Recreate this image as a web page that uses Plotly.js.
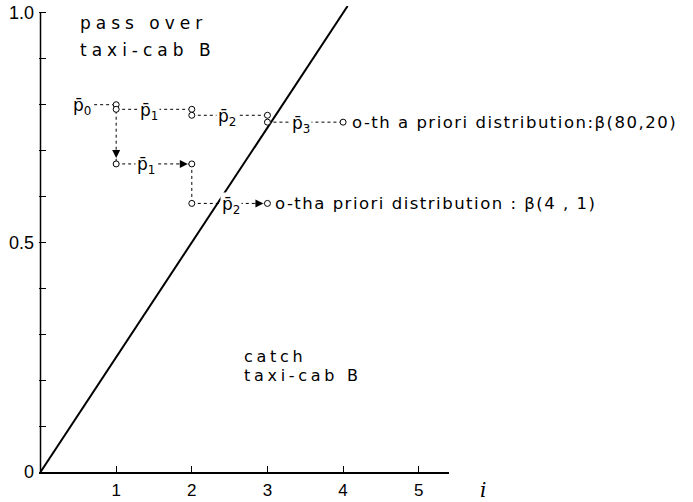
<!DOCTYPE html>
<html>
<head>
<meta charset="utf-8">
<script src="https://cdn.plot.ly/plotly-3.0.1.min.js"></script>
<style>
  html, body { margin: 0; padding: 0; background: #fff; }
  #chart { width: 693px; height: 502px; }
  /* plotter-style wide lettering for the region names and captions */
  .annotation[data-index="0"] .annotation-text,
  .annotation[data-index="1"] .annotation-text { letter-spacing: 5px; }
  .annotation[data-index="2"] .annotation-text,
  .annotation[data-index="3"] .annotation-text { letter-spacing: 3.7px; }
  .annotation[data-index="4"] .annotation-text,
  .annotation[data-index="5"] .annotation-text { letter-spacing: 1.5px; }
</style>
</head>
<body>
<div id="chart"></div>
<script>
// Axis ticks
const iTicks = [1, 2, 3, 4, 5];
const pTicks = [0, 0.1, 0.2, 0.3, 0.4, 0.5, 0.6, 0.7, 0.8, 0.9, 1.0];
const pTickText = ['0', '', '', '', '', '0.5', '', '', '', '', '1.0'];

// Boundary between "pass over" and "catch": p = i/4
const boundaryI = [0, 4.06];
const boundaryP = [0, 1.015];

// Mean estimates p̄_k under the β(80,20) prior
const meansA = [0.800, 0.790, 0.777, 0.762];
const labelIA = [0.55, 1.43, 2.47, 3.45];

// Mean estimates p̄_k under the β(4,1) prior (p̄_0 shared with the above)
const meansB = [0.800, 0.671, 0.585];
const labelIB = [null, 1.40, 2.52];

// Region names and prior captions
const regionText = ['pass over', 'taxi-cab B', 'catch', 'taxi-cab B'];
const regionI = [0.50, 0.50, 2.67, 2.67];
const regionP = [0.978, 0.919, 0.252, 0.210];
const priorText = ['o-th a priori distribution:β(80,20)', 'o-tha priori distribution : β(4 , 1)'];

const FONT = 'DejaVu Sans, sans-serif';

// ---- path of the β(80,20) estimates ----
const hxA = [], hyA = [];
meansA.forEach((m, k) => {
  hxA.push(k === 0 ? labelIA[0] : k, k + 1, null);
  hyA.push(m, m, null);
});
const mxA = [], myA = [];
for (let k = 1; k < meansA.length; k++) {
  mxA.push(k, k); myA.push(meansA[k - 1], meansA[k]);
}
mxA.push(meansA.length); myA.push(meansA[meansA.length - 1]);

// ---- path of the β(4,1) estimates ----
const hxB = [], hyB = [], vxB = [], vyB = [], mxB = [], myB = [];
for (let k = 1; k < meansB.length; k++) {
  hxB.push(k, k + 1, null); hyB.push(meansB[k], meansB[k], null);
  vxB.push(k, k, null); vyB.push(meansB[k - 1], meansB[k], null);
  mxB.push(k, k + 1); myB.push(meansB[k], meansB[k]);
}

const dotted = { color: '#000', width: 1, dash: 'dot' };
const dashed = { color: '#000', width: 1, dash: '3px,3px' };
const openCircle = { symbol: 'circle', size: 6, color: '#fff', line: { color: '#000', width: 1 } };

const traces = [
  { x: boundaryI, y: boundaryP, mode: 'lines', line: { color: '#000', width: 2 } },
  { x: hxA, y: hyA, mode: 'lines', line: dotted },
  { x: hxB, y: hyB, mode: 'lines', line: dotted },
  { x: vxB, y: vyB, mode: 'lines', line: dashed },
  { x: mxA.concat(mxB), y: myA.concat(myB), mode: 'markers', marker: openCircle, cliponaxis: false }
];

const annotations = [];
regionText.forEach((t, n) => annotations.push({
  x: regionI[n], y: regionP[n], xref: 'x', yref: 'y', text: t, showarrow: false,
  xanchor: 'left', yanchor: 'middle', align: 'left',
  font: { family: FONT, size: n < 2 ? 17 : 16, color: '#000' }
}));
// captions start just right of the last circle of each path
annotations.push({
  x: meansA.length, y: meansA[meansA.length - 1], xref: 'x', yref: 'y', text: priorText[0],
  showarrow: false, xanchor: 'left', yanchor: 'middle', align: 'left', xshift: 7,
  font: { family: FONT, size: 16.5, color: '#000' }
});
annotations.push({
  x: meansB.length, y: meansB[meansB.length - 1], xref: 'x', yref: 'y', text: priorText[1],
  showarrow: false, xanchor: 'left', yanchor: 'middle', align: 'left', xshift: 6,
  font: { family: FONT, size: 16.5, color: '#000' }
});
// p̄ labels sitting on the dotted paths
const barLabel = (x, y, k) => ({
  x: x, y: y, xref: 'x', yref: 'y', text: 'p\u0304<sub>' + k + '</sub>', showarrow: false,
  xanchor: 'center', yanchor: 'middle', yshift: -2, bgcolor: '#fff', borderpad: 1,
  font: { family: FONT, size: 17, color: '#000' }
});
meansA.forEach((m, k) => annotations.push(barLabel(labelIA[k], m, k)));
for (let k = 1; k < meansB.length; k++) annotations.push(barLabel(labelIB[k], meansB[k], k));
// arrow heads along the β(4,1) path
const head = (x, y, ax, ay, standoff) => ({
  x: x, y: y, ax: ax, ay: ay, xref: 'x', yref: 'y', axref: 'x', ayref: 'y', text: '',
  showarrow: true, arrowhead: 2, arrowsize: 1.6, arrowwidth: 1, arrowcolor: '#000', standoff: standoff
});
annotations.push(head(1, meansB[1], 1, meansB[1] + 0.03, 6));
annotations.push(head(2, meansB[1], 1.82, meansB[1], 4));
annotations.push(head(3, meansB[2], 2.82, meansB[2], 4));
// axis name for the stage index (placed in paper units, right of the axis end)
annotations.push({
  x: 1.083, y: -0.039, xref: 'paper', yref: 'paper', text: '<i>i</i>', showarrow: false,
  xanchor: 'center', yanchor: 'middle', font: { family: 'DejaVu Serif, serif', size: 20, color: '#000' }
});

const layout = {
  width: 693, height: 502,
  margin: { l: 39, r: 244, t: 6, b: 30, pad: 0 },
  paper_bgcolor: '#fff', plot_bgcolor: '#fff',
  showlegend: false, hovermode: false,
  font: { family: 'Liberation Sans, sans-serif', color: '#000' },
  xaxis: {
    range: [-0.02, 5.4], showgrid: false, zeroline: false,
    showline: true, linecolor: '#000', linewidth: 1.5,
    ticks: 'inside', ticklen: 6, tickwidth: 1, tickcolor: '#000',
    tickvals: iTicks, ticktext: iTicks.map(String),
    tickfont: { family: 'Liberation Sans, sans-serif', size: 17, color: '#000' },
    ticklabelstandoff: 2
  },
  yaxis: {
    range: [0, 1.015], showgrid: false, zeroline: false, showline: false,
    ticks: 'inside', ticklen: 7, tickwidth: 1, tickcolor: '#000',
    tickvals: pTicks, ticktext: pTickText,
    tickfont: { family: 'Liberation Sans, sans-serif', size: 18, color: '#000' },
    ticklabelstandoff: 4
  },
  shapes: [
    { type: 'line', xref: 'x', yref: 'y', x0: 0, x1: 0, y0: 0, y1: pTicks[pTicks.length - 1],
      line: { color: '#000', width: 1.5 } }
  ],
  annotations: annotations
};

Plotly.newPlot('chart', traces, layout, { staticPlot: true, displayModeBar: false });
</script>
</body>
</html>
